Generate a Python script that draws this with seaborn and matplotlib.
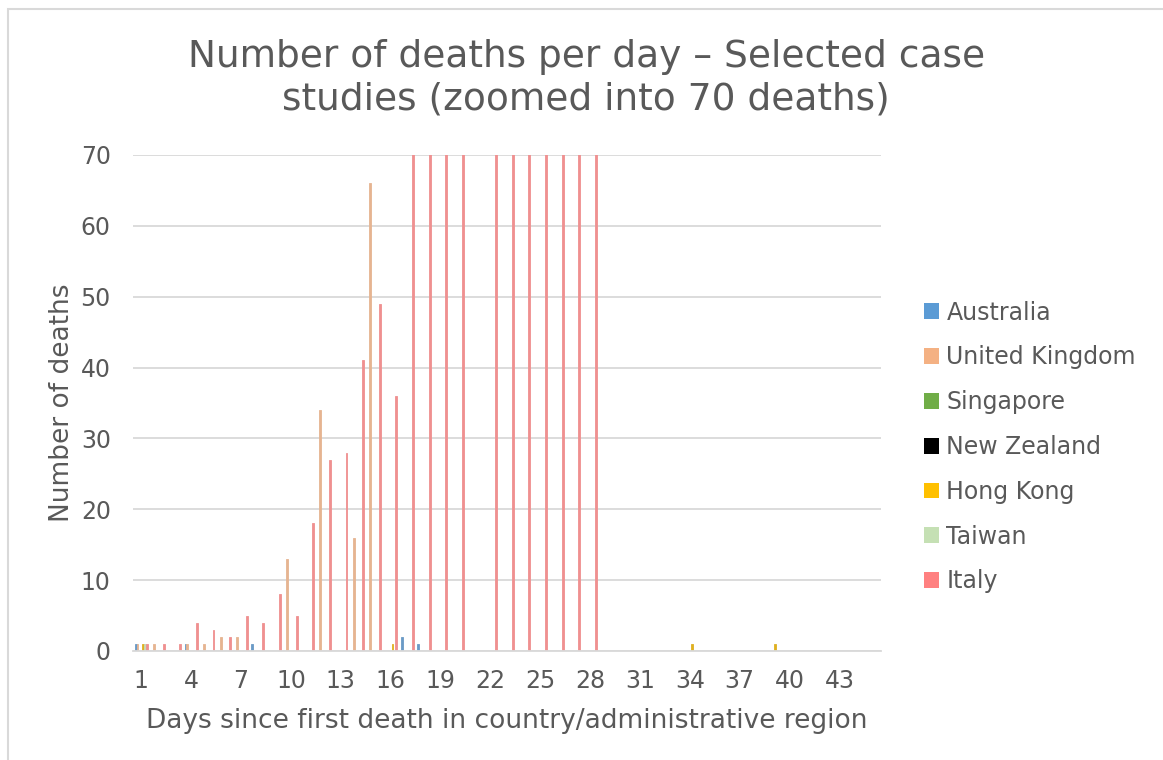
import pandas as pd
import matplotlib.pyplot as plt
import seaborn as sns
from matplotlib.patches import Patch, Rectangle

# --- dados (mortes por dia desde a primeira morte) ---
days = list(range(1, 46))
countries = ["Australia", "United Kingdom", "Singapore", "New Zealand",
             "Hong Kong", "Taiwan", "Italy"]
colors = ["#5B9BD5", "#F4B183", "#70AD47", "#000000",
          "#FFC000", "#C5E0B4", "#FF8080"]

australia = [1, 0, 0, 1, 0, 0, 0, 1, 0, 0, 0, 0, 0, 0, 0, 0, 2, 1]
united_kingdom = [1, 1, 0, 1, 1, 2, 2, 0, 0, 13, 0, 34, 0, 16, 66]
singapore = [0]
new_zealand = [0]
hong_kong = [1, 0, 0, 0, 0, 0, 0, 0, 0, 0, 0, 0, 0, 0, 0,
             1, 0, 0, 0, 0, 0, 0, 0, 0, 0, 0, 0, 0, 0, 0, 0, 0, 0,
             1, 0, 0, 0, 0, 1]
taiwan = [1]
italy = [1, 1, 1, 4, 3, 2, 5, 4, 8, 5, 18, 27, 28, 41, 49, 36,
         133, 97, 168, 196, 0, 439, 175, 368, 349, 345, 475, 427]

series = [australia, united_kingdom, singapore, new_zealand,
          hong_kong, taiwan, italy]

rows = []
for name, vals in zip(countries, series):
    for i, v in enumerate(vals):
        rows.append({"day": days[i], "country": name, "deaths": v})
df = pd.DataFrame(rows)

sns.set_theme(style="white")
plt.rcParams["font.family"] = ["DejaVu Sans"]
text_color = "#595959"
grid_color = "#D9D9D9"
palette = dict(zip(countries, colors))

fig = plt.figure(figsize=(11.63, 7.60), dpi=100)
ax = fig.add_axes([133 / 1163, 1 - 651 / 760, (881 - 133) / 1163, (651 - 155) / 760])

sns.barplot(data=df, x="day", y="deaths", hue="country", order=days,
            hue_order=countries, palette=palette,
            width=0.8, errorbar=None, legend=False, ax=ax)
# bordas finas da mesma cor, como no Excel
for bar in ax.patches:
    bar.set_edgecolor(bar.get_facecolor())
    bar.set_linewidth(0.6)

ax.set_ylim(0, 70)
ax.set_xlim(-0.5, len(days) - 0.5)
ax.set_yticks(range(0, 71, 10))
ax.set_xticks(range(0, len(days), 3))
ax.set_xticklabels(days[::3])
ax.tick_params(axis="both", length=0, labelsize=17, colors=text_color)
ax.tick_params(axis="y", pad=16)
ax.tick_params(axis="x", pad=13)

ax.yaxis.grid(True, color=grid_color, lw=1.3)
ax.set_axisbelow(True)
for s in ["left", "top", "right"]:
    ax.spines[s].set_visible(False)
ax.spines["bottom"].set_color(grid_color)
ax.spines["bottom"].set_linewidth(1.3)

ax.set_xlabel("Days since first death in country/administrative region",
              fontsize=19, color=text_color, labelpad=11)
ax.set_ylabel("Number of deaths", fontsize=19, color=text_color, labelpad=4)

fig.text(0.504, 0.897, "Number of deaths per day \u2013 Selected case\nstudies (zoomed into 70 deaths)",
         ha="center", va="center", fontsize=27, color=text_color, linespacing=1.25)

handles = [Patch(facecolor=c, edgecolor="none", label=n) for n, c in zip(countries, colors)]
fig.legend(handles=handles, loc="center left", bbox_to_anchor=(924 / 1163, 1 - 447 / 760),
           frameon=False, fontsize=17, handlelength=0.65, handleheight=0.65,
           handletextpad=0.3, labelspacing=0.88, borderpad=0, borderaxespad=0,
           labelcolor=text_color)

# moldura do gráfico (Excel)
fig.add_artist(Rectangle((8 / 1163, -0.1), 1.2, 1.1 - 9 / 760, transform=fig.transFigure,
                         fill=False, edgecolor=grid_color, lw=1.5))

fig.savefig("out.png", dpi=100)
plt.close()
